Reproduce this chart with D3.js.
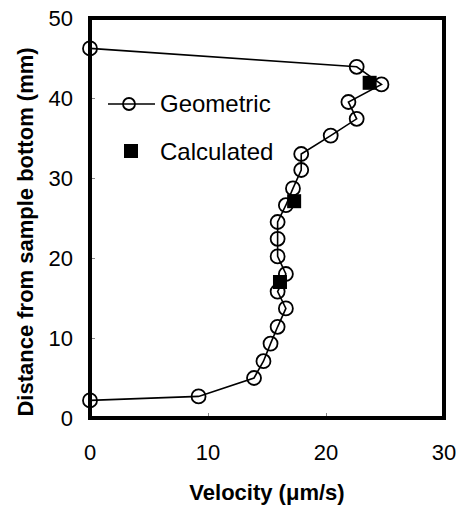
<!DOCTYPE html>
<html><head><meta charset="utf-8">
<script src="https://cdn.jsdelivr.net/npm/d3@7"></script>
<style>body{margin:0;background:#fff}svg{display:block}text{font-family:"Liberation Sans",Arial,sans-serif}</style>
</head><body><svg id="c" width="461" height="506"></svg>
<script>
const geoVelocity = [0, 22.6, 24.7, 21.9, 22.6, 20.4, 17.9, 17.9, 17.2, 16.6, 15.9, 15.9, 15.9, 16.6, 15.9, 16.6, 15.9, 15.3, 14.7, 13.9, 9.2, 0];
const geoDistance = [46.2, 43.9, 41.7, 39.5, 37.4, 35.3, 33.0, 31.0, 28.7, 26.6, 24.5, 22.4, 20.2, 18.0, 15.8, 13.7, 11.4, 9.3, 7.1, 5.0, 2.7, 2.2];
const calcVelocity = [23.7, 17.3, 16.1];
const calcDistance = [41.9, 27.1, 17.0];
const xTicks = [0, 10, 20, 30];
const yTicks = [0, 10, 20, 30, 40, 50];
const seriesNames = ["Geometric", "Calculated"];

const svg = d3.select("#c");
const L = 90, R = 444, T = 18, B = 418;
const x = d3.scaleLinear().domain([0, 30]).range([L, R]);
const y = d3.scaleLinear().domain([0, 50]).range([B, T]);

// inner ticks
const gx = svg.append("g").attr("transform", `translate(0,${B})`)
  .call(d3.axisTop(x).tickValues(xTicks).tickSize(5).tickFormat(""));
const gy = svg.append("g").attr("transform", `translate(${L},0)`)
  .call(d3.axisRight(y).tickValues(yTicks).tickSize(5).tickFormat(""));
[gx, gy].forEach(g => { g.select(".domain").remove(); g.selectAll("line").attr("stroke", "#888").attr("stroke-width", 1); });

// tick labels
svg.append("g").selectAll("text").data(xTicks).join("text")
  .attr("x", d => x(d)).attr("y", 460).attr("text-anchor", "middle")
  .attr("font-size", 22).text(d => d);
svg.append("g").selectAll("text").data(yTicks).join("text")
  .attr("x", 73).attr("y", d => y(d) + 8).attr("text-anchor", "end")
  .attr("font-size", 22).text(d => d);

// frame
svg.append("rect").attr("x", L).attr("y", T).attr("width", R - L).attr("height", B - T)
  .attr("fill", "none").attr("stroke", "#000").attr("stroke-width", 4);

// axis titles
svg.append("text").attr("x", 267).attr("y", 500).attr("text-anchor", "middle")
  .attr("font-size", 22).attr("font-weight", "bold").text("Velocity (\u03bcm/s)");
svg.append("text").attr("transform", "translate(33,232) rotate(-90)").attr("text-anchor", "middle")
  .attr("font-size", 22).attr("font-weight", "bold").text("Distance from sample bottom (mm)");

// geometric series
const geo = geoVelocity.map((v, i) => [v, geoDistance[i]]);
svg.append("path").datum(geo)
  .attr("d", d3.line().x(d => x(d[0])).y(d => y(d[1])))
  .attr("fill", "none").attr("stroke", "#000").attr("stroke-width", 1.6);
svg.append("g").selectAll("circle").data(geo).join("circle")
  .attr("cx", d => x(d[0])).attr("cy", d => y(d[1])).attr("r", 7)
  .attr("fill", "none").attr("stroke", "#000").attr("stroke-width", 1.8);

// calculated series
const calc = calcVelocity.map((v, i) => [v, calcDistance[i]]);
const s = 14;
svg.append("g").selectAll("rect").data(calc).join("rect")
  .attr("x", d => x(d[0]) - s / 2).attr("y", d => y(d[1]) - s / 2)
  .attr("width", s).attr("height", s).attr("fill", "#000");

// legend
const lg = svg.append("g");
lg.append("line").attr("x1", 108).attr("x2", 155).attr("y1", 104).attr("y2", 104)
  .attr("stroke", "#000").attr("stroke-width", 1.6);
lg.append("circle").attr("cx", 129).attr("cy", 104).attr("r", 6)
  .attr("fill", "none").attr("stroke", "#000").attr("stroke-width", 1.8);
lg.append("text").attr("x", 160).attr("y", 112).attr("font-size", 24).text(seriesNames[0]);
lg.append("rect").attr("x", 124).attr("y", 144).attr("width", 14).attr("height", 14).attr("fill", "#000");
lg.append("text").attr("x", 160).attr("y", 160).attr("font-size", 24).text(seriesNames[1]);
</script></body></html>
